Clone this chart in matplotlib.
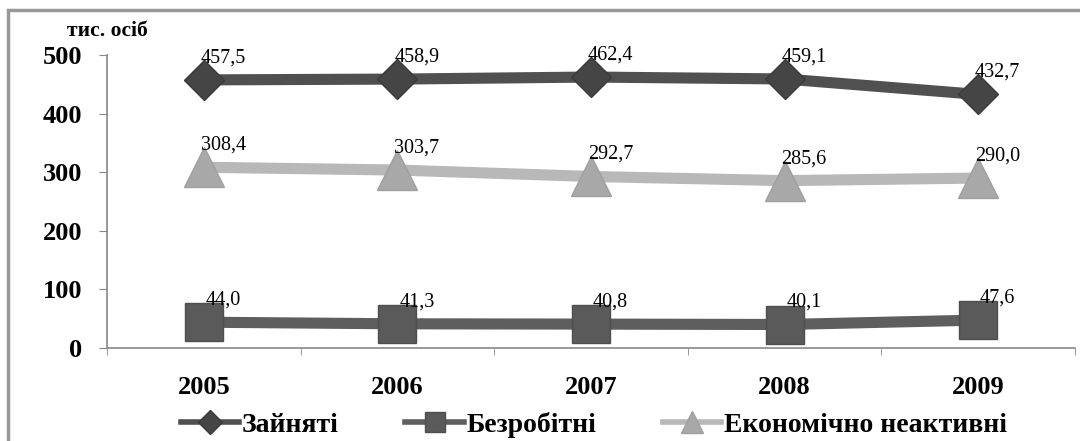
import numpy as np
import matplotlib.pyplot as plt
from matplotlib.lines import Line2D
from matplotlib.patches import Rectangle

# data
years = ['2005', '2006', '2007', '2008', '2009']
employed = [457.5, 458.9, 462.4, 459.1, 432.7]
unemployed = [44.0, 41.3, 40.8, 40.1, 47.6]
inactive = [308.4, 303.7, 292.7, 285.6, 290.0]
series_names = ['Зайняті', 'Безробітні', 'Економічно неактивні']

serif = ['Liberation Serif', 'DejaVu Serif']
plt.rcParams['font.family'] = serif

fig = plt.figure(figsize=(10.8, 4.41), dpi=100)
ax = fig.add_axes([107 / 1080, 1 - 348 / 441, (1075 - 107) / 1080, (348 - 55) / 441])

x = np.arange(len(years))
ax.plot(x, employed, color='#505050', lw=8, marker='D', ms=20,
        mfc='#454545', mec='#3a3a3a', zorder=3)
ax.plot(x, inactive, color='#b8b8b8', lw=8, marker='^', ms=29,
        mfc='#a8a8a8', mec='#a0a0a0', zorder=3)
ax.plot(x, unemployed, color='#5e5e5e', lw=8, marker='s', ms=27,
        mfc='#5a5a5a', mec='#4e4e4e', zorder=3)

def fmt(v):
    return f'{v:.1f}'.replace('.', ',')

for vals in (employed, inactive, unemployed):
    for xi, v in zip(x, vals):
        ax.annotate(fmt(v), (xi, v), xytext=(14, 9), textcoords='offset points',
                    ha='center', va='bottom', fontsize=14.5, color='black', zorder=4)

ax.set_xlim(-0.5, 4.5)
ax.set_ylim(0, 500)
ax.set_yticks([0, 100, 200, 300, 400, 500])
ax.set_xticks(x)
ax.set_xticklabels(years)
ax.set_xticks(np.arange(-0.5, 5, 1), minor=True)
ax.tick_params(axis='x', which='major', length=0, pad=20, labelsize=19)
ax.tick_params(axis='x', which='minor', length=5, color='#888888')
ax.tick_params(axis='y', length=6, color='#888888', pad=12, labelsize=19)
for lab in ax.get_xticklabels() + ax.get_yticklabels():
    lab.set_fontweight('bold')

for s in ['top', 'right']:
    ax.spines[s].set_visible(False)
ax.spines['left'].set_color('#888888')
ax.spines['bottom'].set_color('#888888')
ax.spines['left'].set_linewidth(1.2)
ax.spines['bottom'].set_linewidth(1.2)
ax.patch.set_alpha(0)

fig.text(67 / 1080, 1 - 31 / 441, 'тис. осіб', fontsize=15.5, fontweight='bold',
         va='center', ha='left')

handles = [
    Line2D([], [], color='#505050', lw=4, marker='D', ms=12, mfc='#454545', mec='#3a3a3a'),
    Line2D([], [], color='#5e5e5e', lw=4, marker='s', ms=15, mfc='#5a5a5a', mec='#4e4e4e'),
    Line2D([], [], color='#b8b8b8', lw=4, marker='^', ms=16, mfc='#a8a8a8', mec='#a0a0a0'),
]
fig.legend(handles, series_names, loc='center', bbox_to_anchor=(594 / 1080, 1 - 425 / 441),
           ncol=3, frameon=False, prop={'family': serif, 'weight': 'bold', 'size': 20},
           handlelength=2.1, handletextpad=0.1, columnspacing=2.4)

# chart frame: only the left and top edges show in the picture
fig.patches.append(Rectangle((8 / 1080, -0.1), 1.2, 1.1 - 10 / 441, transform=fig.transFigure,
                             fill=False, ec='#999999', lw=2.5))

plt.savefig('out.png', dpi=100)
